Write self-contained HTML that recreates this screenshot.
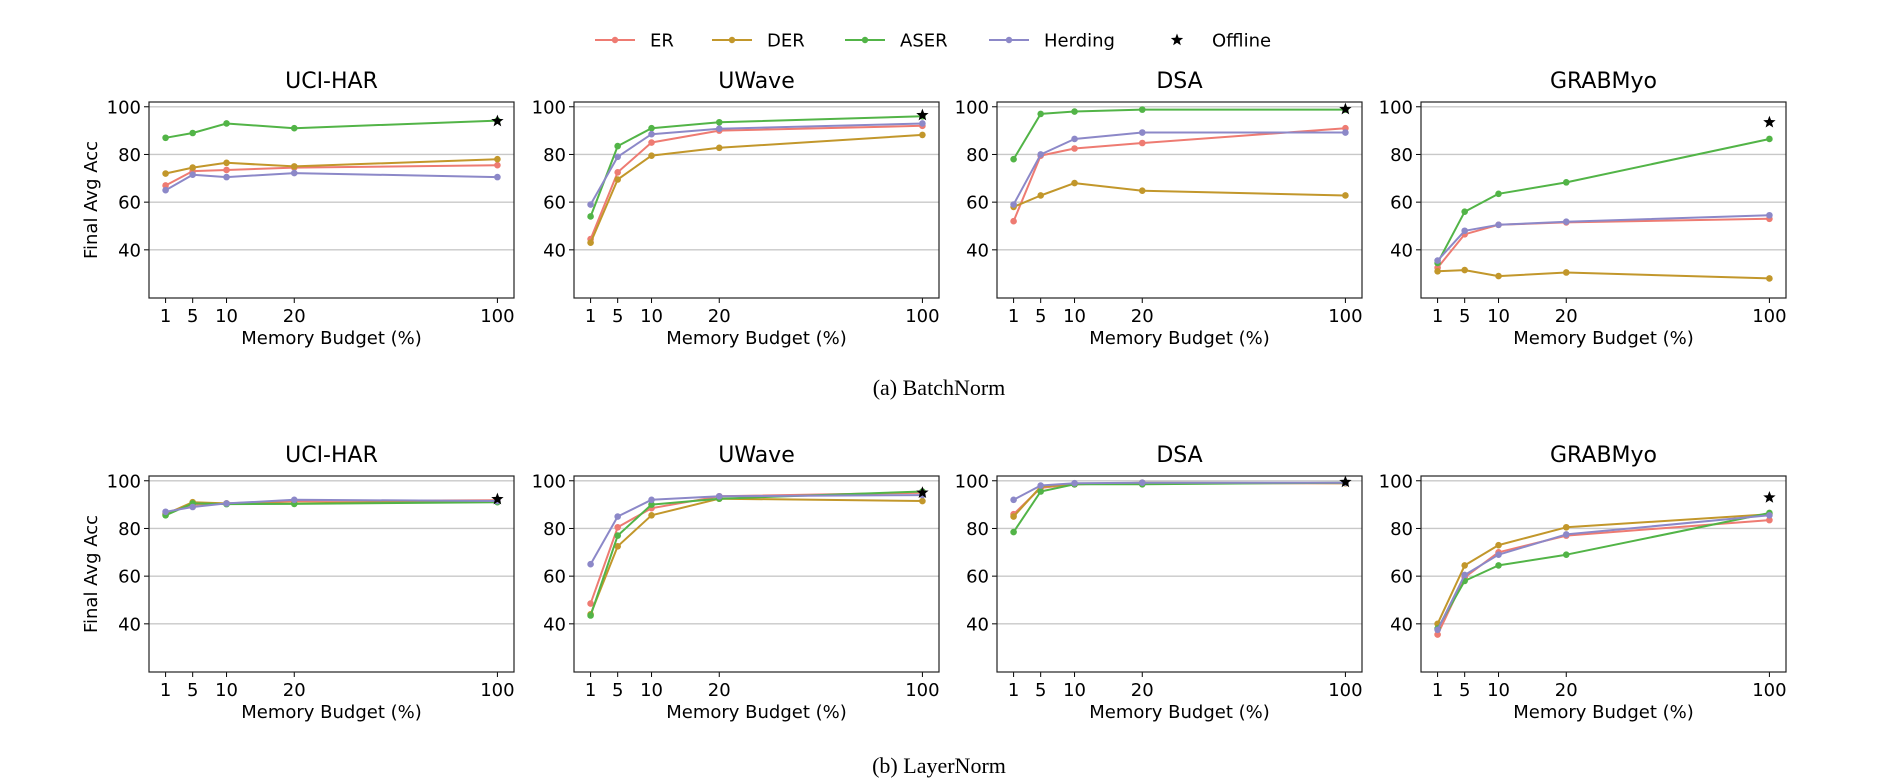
<!DOCTYPE html>
<html><head><meta charset="utf-8">
<style>
html,body{margin:0;padding:0;background:#fff;}
svg{display:block;font-family:"DejaVu Sans","Liberation Sans",sans-serif;}
</style></head>
<body>
<svg id="chart" width="1904" height="778" viewBox="0 0 1904 778" xmlns="http://www.w3.org/2000/svg">
  <g id="legend"></g>
  <g id="panels"></g>
  <text x="939" y="395" font-family="Liberation Serif, serif" font-size="22" text-anchor="middle">(a)  BatchNorm</text>
  <text x="939" y="773" font-family="Liberation Serif, serif" font-size="22" text-anchor="middle">(b)  LayerNorm</text>
</svg>
<script>
const budgets = [1, 5, 10, 20, 100];
const xTickLabels = ["1", "5", "10", "20", "100"];
const yTicks = [40, 60, 80, 100];
const seriesNames = ["ER", "DER", "ASER", "Herding"];
const seriesColors = ["#ee7b72", "#c2972b", "#52b447", "#8c88c8"];
const datasetTitles = ["UCI-HAR", "UWave", "DSA", "GRABMyo"];

// BatchNorm row
const bnER      = [[67,73,73.5,74.5,75.5],[44.5,72.5,85,90,92],[52,79.5,82.5,84.8,91],[32.5,46.5,50.5,51.5,53]];
const bnDER     = [[72,74.5,76.5,75,78],[43,69.5,79.5,82.8,88.2],[58,62.8,68,64.8,62.8],[31,31.5,29,30.5,28]];
const bnASER    = [[87,89,93,91,94.2],[54,83.5,91,93.5,96],[78,97,98,98.8,98.8],[34.5,56,63.5,68.3,86.5]];
const bnHerding = [[65,71.5,70.5,72.2,70.5],[59,79,88.5,90.8,93],[59,80,86.5,89.2,89.2],[35.5,48,50.5,51.8,54.5]];
const bnOffline = [94, 96.5, 99, 93.5];
// LayerNorm row
const lnER      = [[86.5,90,90.5,91.5,91.8],[48.5,80.5,88.5,93.5,95],[86,97,98.5,99,99],[35.5,59.5,70,77,83.5]];
const lnDER     = [[86,91,90.5,90.5,91.5],[44,72.5,85.5,92.5,91.5],[85,97.5,98.5,99.2,99],[40,64.5,73,80.5,86]];
const lnASER    = [[85.5,90.5,90.2,90.3,91],[43.5,77,90,92.5,95.5],[78.5,95.5,98.5,98.5,99.2],[38,58,64.5,69,86.5]];
const lnHerding = [[87,89,90.5,92,91.5],[65,85,92,93.5,94],[92,98,99,99.2,99.2],[37.5,60.5,69,77.5,85.5]];
const lnOffline = [92.3, 95, 99.5, 93];

const NS = "http://www.w3.org/2000/svg";
function mk(tag, attrs, parent){const e=document.createElementNS(NS,tag);for(const k in attrs)e.setAttribute(k,attrs[k]);parent.appendChild(e);return e;}
function starPath(cx,cy,r){let p="";for(let i=0;i<10;i++){const rr=i%2?r*0.42:r;const a=-Math.PI/2+i*Math.PI/5;p+=(i?"L":"M")+(cx+rr*Math.cos(a)).toFixed(2)+","+(cy+rr*Math.sin(a)).toFixed(2);}return p+"Z";}
// axis transform: broken scale, 20..100 compressed to 20..50
function axisPos(b){ return b <= 20 ? b : 20 + (b - 20) * 30 / 80; }

const lg = document.getElementById("legend");
const legendX = [595, 712, 845, 989];
seriesNames.forEach((n,i)=>{
  const g = mk("g",{},lg);
  
  
  mk("line",{x1:legendX[i],x2:legendX[i]+40,y1:40,y2:40,stroke:seriesColors[i],"stroke-width":2},g);
  mk("circle",{cx:legendX[i]+20,cy:40,r:3.2,fill:seriesColors[i]},g);
  const t = mk("text",{x:legendX[i]+55,y:46.5,"font-size":18,fill:"#000"},g); t.textContent=n;
});
{
  const g = mk("g",{},lg);
  
  
  mk("path",{d:starPath(1177,40,6.5),fill:"#000"},g);
  const t = mk("text",{x:1212,y:46.5,"font-size":18},g); t.textContent="Offline";
}

const panelsG = document.getElementById("panels");
const colLeft = [149, 574, 997, 1421];
const W = 365, H = 196;
const rows = [
  {top:102, data:[bnER,bnDER,bnASER,bnHerding], off:bnOffline, tag:"bn"},
  {top:476, data:[lnER,lnDER,lnASER,lnHerding], off:lnOffline, tag:"ln"}
];
const pmin = axisPos(1), pmax = axisPos(100), pad = (pmax - pmin) * 0.05;
const xmin = pmin - pad, xmax = pmax + pad, ymin = 19.8, ymax = 102;

rows.forEach((row)=>{
  datasetTitles.forEach((title,c)=>{
    const L = colLeft[c], T = row.top;
    const xs = v => L + (axisPos(v) - xmin)/(xmax - xmin)*W;
    const ys = v => T + H - (v - ymin)/(ymax - ymin)*H;
    const g = mk("g",{},panelsG);
    
    
    const tt = mk("text",{x:L+W/2,y:T-14,"font-size":22,"text-anchor":"middle"},g);
    tt.textContent = title;
    
    
    yTicks.forEach(v=>{
      mk("line",{x1:L,x2:L+W,y1:ys(v),y2:ys(v),stroke:"#c8c8c8","stroke-width":1.4},g);
      mk("line",{x1:L-5,x2:L,y1:ys(v),y2:ys(v),stroke:"#000","stroke-width":1},g);
      const t = mk("text",{x:L-8,y:ys(v)+6.5,"font-size":18,"text-anchor":"end"},g);
      t.textContent = v;
      
      
    });
    budgets.forEach((b,i)=>{
      mk("line",{x1:xs(b),x2:xs(b),y1:T+H,y2:T+H+5,stroke:"#000","stroke-width":1},g);
      const t = mk("text",{x:xs(b),y:T+H+24,"font-size":18,"text-anchor":"middle"},g);
      t.textContent = xTickLabels[i];
      
      
    });
    const xl = mk("text",{x:L+W/2,y:T+H+46,"font-size":18,"text-anchor":"middle"},g);
    xl.textContent = "Memory Budget (%)";
    
    
    if(c===0){
      const yl = mk("text",{x:0,y:0,"font-size":18,"text-anchor":"middle",transform:`translate(97,${T+H/2}) rotate(-90)`},g);
      yl.textContent = "Final Avg Acc";
      
      
    }
    row.data.forEach((ser,si)=>{
      const vals = ser[c];
      const pl = mk("polyline",{points:vals.map((v,i)=>xs(budgets[i]).toFixed(1)+","+ys(v).toFixed(1)).join(" "),fill:"none",stroke:seriesColors[si],"stroke-width":2,"stroke-linejoin":"round"},g);
      
      
      vals.forEach((v,i)=>{
        const p = mk("circle",{cx:xs(budgets[i]),cy:ys(v),r:3.3,fill:seriesColors[si]},g);
        
        
      });
    });
    const st = mk("path",{d:starPath(xs(100),ys(row.off[c]),6.5),fill:"#000"},g);
    
    
    mk("rect",{x:L,y:T,width:W,height:H,fill:"none",stroke:"#222","stroke-width":1.2},g);
  });
});
</script>
</body></html>
